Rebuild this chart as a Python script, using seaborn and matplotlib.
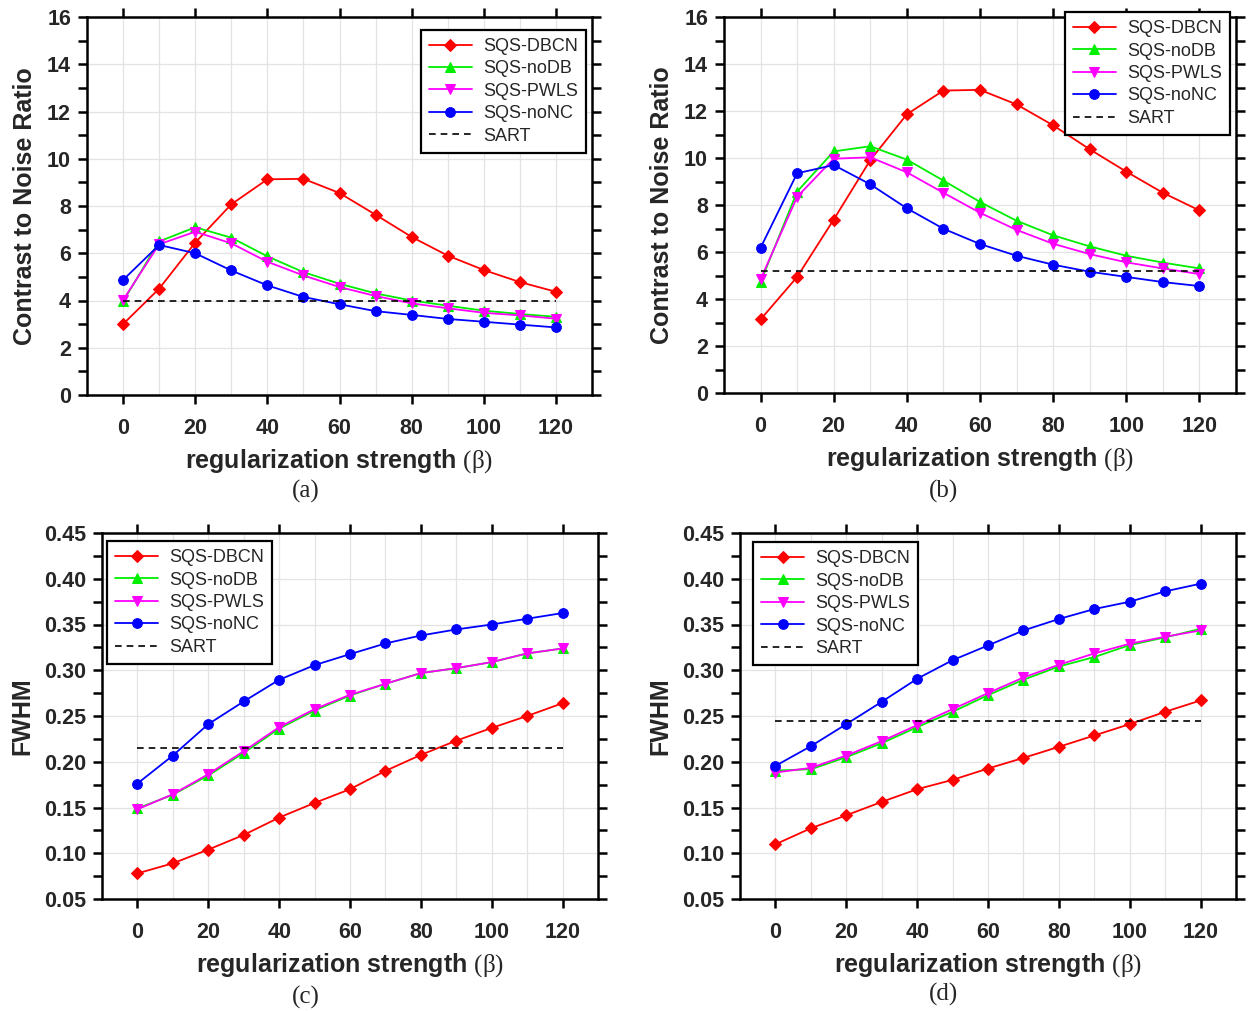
import numpy as np
import pandas as pd
import matplotlib
matplotlib.use("Agg")
import matplotlib.pyplot as plt
import seaborn as sns
from matplotlib.ticker import MultipleLocator, FormatStrFormatter

beta = [0, 10, 20, 30, 40, 50, 60, 70, 80, 90, 100, 110, 120]
methods = ["SQS-DBCN", "SQS-noDB", "SQS-PWLS", "SQS-noNC"]

# (a) CNR
cnr_a_dbcn = [3.0, 4.5, 6.45, 8.07, 9.13, 9.15, 8.55, 7.63, 6.69, 5.9, 5.29, 4.78, 4.37]
cnr_a_nodb = [3.96, 6.5, 7.1, 6.66, 5.87, 5.2, 4.71, 4.3, 4.0, 3.78, 3.57, 3.43, 3.31]
cnr_a_pwls = [4.02, 6.38, 6.91, 6.42, 5.64, 5.06, 4.57, 4.19, 3.88, 3.67, 3.48, 3.37, 3.23]
cnr_a_nonc = [4.87, 6.35, 6.0, 5.27, 4.64, 4.15, 3.84, 3.55, 3.39, 3.22, 3.1, 2.98, 2.86]
cnr_a_sart = 4.0

# (b) CNR
cnr_b_dbcn = [3.13, 4.94, 7.38, 9.91, 11.86, 12.87, 12.9, 12.28, 11.39, 10.37, 9.42, 8.52, 7.77]
cnr_b_nodb = [4.72, 8.57, 10.28, 10.5, 9.93, 9.04, 8.13, 7.33, 6.71, 6.24, 5.84, 5.55, 5.3]
cnr_b_pwls = [4.84, 8.35, 9.97, 10.03, 9.39, 8.52, 7.67, 6.94, 6.35, 5.91, 5.56, 5.3, 5.06]
cnr_b_nonc = [6.18, 9.35, 9.7, 8.88, 7.86, 6.99, 6.34, 5.84, 5.46, 5.16, 4.94, 4.72, 4.55]
cnr_b_sart = 5.2

# (c) FWHM
fwhm_c_dbcn = [0.078, 0.089, 0.104, 0.120, 0.139, 0.155, 0.170, 0.190, 0.2075, 0.223, 0.237, 0.250, 0.264]
fwhm_c_nodb = [0.149, 0.164, 0.185, 0.2097, 0.2363, 0.256, 0.2724, 0.2852, 0.2969, 0.3023, 0.3089, 0.3184, 0.3238]
fwhm_c_pwls = [0.148, 0.1645, 0.1864, 0.2115, 0.2378, 0.2575, 0.2732, 0.2852, 0.2969, 0.3023, 0.3089, 0.3184, 0.3238]
fwhm_c_nonc = [0.1762, 0.2068, 0.2411, 0.2659, 0.2896, 0.3056, 0.3176, 0.3293, 0.338, 0.3446, 0.350, 0.3563, 0.3625]
fwhm_c_sart = 0.215

# (d) FWHM
fwhm_d_dbcn = [0.1098, 0.1273, 0.1415, 0.1561, 0.170, 0.1802, 0.1926, 0.2042, 0.2163, 0.2287, 0.2411, 0.2546, 0.267]
fwhm_d_nodb = [0.1904, 0.1918, 0.205, 0.2203, 0.2378, 0.2546, 0.2728, 0.2896, 0.3041, 0.3144, 0.3275, 0.3359, 0.3453]
fwhm_d_pwls = [0.1882, 0.1933, 0.2068, 0.2225, 0.240, 0.2575, 0.275, 0.2921, 0.306, 0.3184, 0.329, 0.3366, 0.3435]
fwhm_d_nonc = [0.1955, 0.217, 0.2411, 0.2655, 0.2907, 0.311, 0.3271, 0.3435, 0.356, 0.3669, 0.3749, 0.3862, 0.3946]
fwhm_d_sart = 0.244

sns.set_theme(style="ticks")
plt.rcParams["font.family"] = ["Liberation Sans", "DejaVu Sans"]
plt.rcParams["mathtext.fontset"] = "custom"
plt.rcParams["mathtext.rm"] = "Liberation Serif"
plt.rcParams["mathtext.it"] = "Liberation Serif:italic"
plt.rcParams["mathtext.bf"] = "Liberation Serif:bold"

colors = {"SQS-DBCN": "#ff0000", "SQS-noDB": "#00ee00", "SQS-PWLS": "#ff00ff", "SQS-noNC": "#0000ff"}
markers = {"SQS-DBCN": "D", "SQS-noDB": "^", "SQS-PWLS": "v", "SQS-noNC": "o"}
msizes = {"SQS-DBCN": 6, "SQS-noDB": 7, "SQS-PWLS": 7, "SQS-noNC": 7}

W, H = 1248, 1011
fig = plt.figure(figsize=(W / 100, H / 100), dpi=100)


def rect(l, r, t, b):
    return [l / W, (H - b) / H, (r - l) / W, (b - t) / H]


panels = [
    dict(rect=rect(87, 592, 17, 395), data=[cnr_a_dbcn, cnr_a_nodb, cnr_a_pwls, cnr_a_nonc], sart=cnr_a_sart,
         ylim=(0, 16), major=2, minor=1, ylabel="Contrast to Noise Ratio", fmt="%d",
         leg=dict(loc="upper right", bbox_to_anchor=(0.988, 0.966)), cap="(a)", capxy=(306, 491)),
    dict(rect=rect(724, 1236, 17, 393), data=[cnr_b_dbcn, cnr_b_nodb, cnr_b_pwls, cnr_b_nonc], sart=cnr_b_sart,
         ylim=(0, 16), major=2, minor=1, ylabel="Contrast to Noise Ratio", fmt="%d",
         leg=dict(loc="upper right", bbox_to_anchor=(0.988, 1.013)), cap="(b)", capxy=(944, 491)),
    dict(rect=rect(102, 598, 533, 899), data=[fwhm_c_dbcn, fwhm_c_nodb, fwhm_c_pwls, fwhm_c_nonc], sart=fwhm_c_sart,
         ylim=(0.05, 0.45), major=0.05, minor=0.025, ylabel="FWHM", fmt="%.2f",
         leg=dict(loc="upper left", bbox_to_anchor=(0.010, 0.978)), cap="(c)", capxy=(306, 997)),
    dict(rect=rect(740, 1236, 533, 899), data=[fwhm_d_dbcn, fwhm_d_nodb, fwhm_d_pwls, fwhm_d_nonc], sart=fwhm_d_sart,
         ylim=(0.05, 0.45), major=0.05, minor=0.025, ylabel="FWHM", fmt="%.2f",
         leg=dict(loc="upper left", bbox_to_anchor=(0.026, 0.975)), cap="(d)", capxy=(944, 994)),
]

for p in panels:
    ax = fig.add_axes(p["rect"])
    for name, vals in zip(methods, p["data"]):
        df = pd.DataFrame({"beta": beta, "val": vals})
        sns.lineplot(data=df, x="beta", y="val", ax=ax, color=colors[name], marker=markers[name],
                     markersize=msizes[name], markeredgecolor=colors[name], linewidth=1.3, label=name)
    sns.lineplot(x=[beta[0], beta[-1]], y=[p["sart"], p["sart"]], ax=ax, color="black",
                 linestyle=(0, (4, 3)), linewidth=1.2, label="SART")
    ax.set_xlim(-10, 130)
    ax.set_ylim(*p["ylim"])
    ax.xaxis.set_major_locator(MultipleLocator(20))
    ax.xaxis.set_minor_locator(MultipleLocator(10))
    ax.yaxis.set_major_locator(MultipleLocator(p["major"]))
    ax.yaxis.set_minor_locator(MultipleLocator(p["minor"]))
    ax.yaxis.set_major_formatter(FormatStrFormatter(p["fmt"]))
    ax.grid(True, which="major", color="#e3e3e3", linewidth=0.9)
    ax.grid(True, which="minor", axis="x", color="#e3e3e3", linewidth=0.9)
    ax.set_axisbelow(True)
    for s in ax.spines.values():
        s.set_visible(True)
        s.set_linewidth(1.8)
        s.set_color("black")
    ax.tick_params(axis="both", which="major", direction="out", length=6.5, width=1.8, color="black",
                   top=True, right=True, labelsize=15.5, pad=5)
    ax.tick_params(axis="x", which="major", pad=10)
    ax.tick_params(axis="y", which="minor", direction="out", length=6.5, width=1.8, left=True, right=True, color="black")
    ax.tick_params(axis="x", which="minor", length=0, top=False, bottom=False)
    for lab in ax.get_xticklabels() + ax.get_yticklabels():
        lab.set_fontweight("bold")
    ax.set_xlabel(r"regularization strength $\mathrm{(\beta)}$", fontsize=18, fontweight="bold", labelpad=6)
    ax.set_ylabel(p["ylabel"], fontsize=18, fontweight="bold", labelpad=7)
    leg = ax.legend(fontsize=13, frameon=True, fancybox=False, edgecolor="black", framealpha=1,
                    borderaxespad=0, borderpad=0.45, labelspacing=0.3, handlelength=2.4,
                    handletextpad=0.6, **p["leg"])
    leg.get_frame().set_linewidth(1.6)
    fig.text(p["capxy"][0] / W, 1 - p["capxy"][1] / H, p["cap"], ha="center", va="center",
             fontsize=18, family="Liberation Serif")

fig.savefig("out.png", dpi=100)
